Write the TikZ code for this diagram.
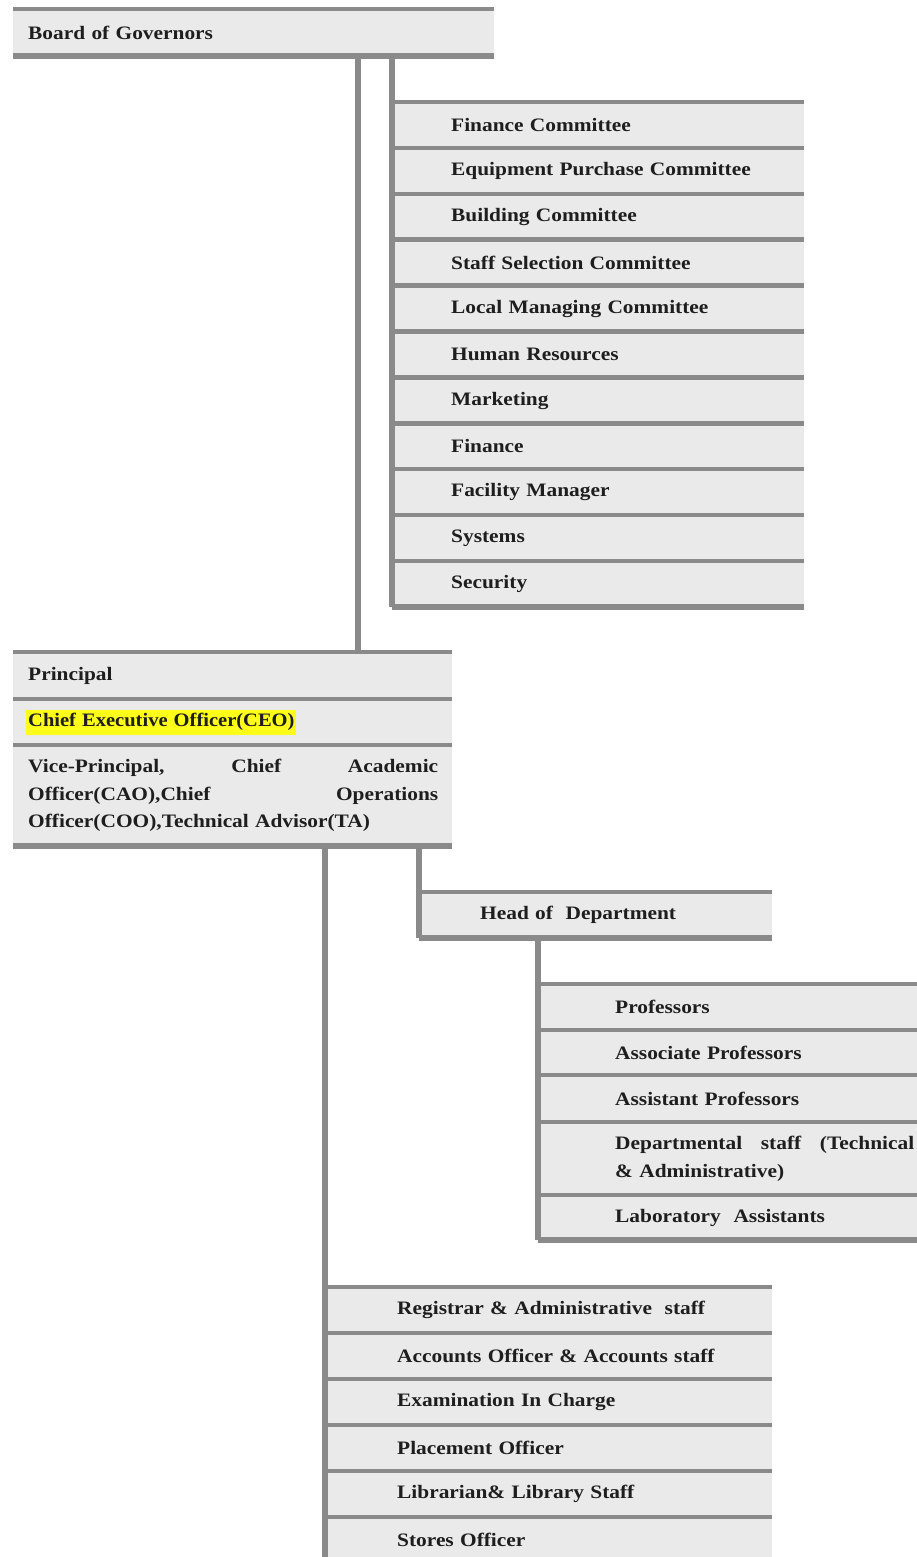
\documentclass[tikz,border=0pt]{standalone}
\usepackage{fontspec}
\setmainfont[FakeStretch=1.125]{Liberation Serif}
\definecolor{linegray}{HTML}{8A8A8A}
\definecolor{cellgray}{HTML}{EAEAEA}
\definecolor{inkc}{HTML}{1E1E1E}
\definecolor{hl}{HTML}{FFFF1A}
\begin{document}
\begin{tikzpicture}[x=1pt,y=-1pt,
  cell/.style={fill=cellgray, anchor=north west, inner xsep=0pt, inner ysep=0pt,
    align=left, text=inkc, font=\bfseries\fontsize{19}{27.5}\selectfont},
  hbar/.style={draw=linegray, line width=4.5pt},
  hbarb/.style={draw=linegray, line width=6pt},
  vbar/.style={draw=linegray, line width=6pt}]
\useasboundingbox[fill=white] (0,0) rectangle (917,1557);
% Board
\node[cell, text width=481pt, minimum height=47pt] (board) at (13,9) {\hspace*{15pt}Board of Governors};
% Committees
\foreach \t [count=\i from 0] in {Finance Committee, Equipment Purchase Committee, Building Committee, Staff Selection Committee, Local Managing Committee, Human Resources, Marketing, Finance, Facility Manager, Systems, Security}
  \node[cell, text width=412pt, minimum height=45.9pt] (c\i) at (392,{102+\i*45.9}) {\hspace*{59pt}\t};
% Principal block
\node[cell, text width=439pt, minimum height=47pt] (principal) at (13,652) {\hspace*{15pt}Principal};
\node[cell, text width=439pt, minimum height=46pt] (ceo) at (13,699) {\hspace*{13pt}{\setlength\fboxsep{2pt}\colorbox{hl}{\rule[-6pt]{0pt}{21pt}\scalebox{0.96}[1]{Chief Executive Officer(CEO)}}}};
\node[cell, text width=439pt, minimum height=101pt] (vp) at (13,745) {\hspace*{15pt}\makebox[410pt][l]{Vice-Principal,\hfill Chief\hfill Academic}\\\hspace*{15pt}\makebox[410pt][l]{Officer(CAO),Chief\hfill Operations}\\\hspace*{15pt}Officer(COO),Technical Advisor(TA)};
% Head of Department
\node[cell, text width=353pt, minimum height=46pt] (hod) at (419,892) {\hspace*{61pt}Head of\ \ Department};
% Department staff
\node[cell, text width=379pt, minimum height=46pt] (prof) at (538,984) {\hspace*{77pt}Professors};
\node[cell, text width=379pt, minimum height=45pt] (assoc) at (538,1030) {\hspace*{77pt}Associate Professors};
\node[cell, text width=379pt, minimum height=47pt] (asst) at (538,1075) {\hspace*{77pt}Assistant Professors};
\node[cell, text width=379pt, minimum height=73pt] (dept) at (538,1122) {\hspace*{77pt}\makebox[299pt][l]{Departmental\hfill staff\hfill (Technical}\\\hspace*{77pt}\& Administrative)};
\node[cell, text width=379pt, minimum height=45pt] (lab) at (538,1195) {\hspace*{77pt}Laboratory\ \ Assistants};
% Administrative staff
\foreach \t [count=\i from 0] in {Registrar \& Administrative\ \ staff, Accounts Officer \& Accounts staff, Examination In Charge, Placement Officer, Librarian\& Library Staff, Stores Officer}
  \node[cell, text width=447pt, minimum height=46pt] (a\i) at (325,{1287+\i*46}) {\hspace*{72pt}\t};
% horizontal rules
\draw[hbar] (board.north west) -- (board.north east);
\draw[hbarb] (board.south west) -- (board.south east);
\foreach \i in {0,...,10} \draw[hbar] (c\i.north west) -- (c\i.north east);
\draw[hbarb] (c10.south west) -- (c10.south east);
\foreach \n in {principal,ceo,vp} \draw[hbar] (\n.north west) -- (\n.north east);
\draw[hbarb] (vp.south west) -- (vp.south east);
\draw[hbar] (hod.north west) -- (hod.north east);
\draw[hbarb] (hod.south west) -- (hod.south east);
\foreach \n in {prof,assoc,asst,dept,lab} \draw[hbar] (\n.north west) -- (\n.north east);
\draw[hbarb] (lab.south west) -- (lab.south east);
\foreach \i in {0,...,5} \draw[hbar] (a\i.north west) -- (a\i.north east);
% connectors
\draw[vbar] ([xshift=345pt]board.south west) -- ([xshift=345pt]principal.north west);
\draw[vbar] (board.south -| c0.west) -- (c10.south west);
\draw[vbar] (vp.south -| hod.west) -- (hod.south west);
\draw[vbar] (hod.south -| prof.west) -- (lab.south west);
\draw[vbar] (vp.south -| a0.west) -- (a5.south west);
\end{tikzpicture}
\end{document}
